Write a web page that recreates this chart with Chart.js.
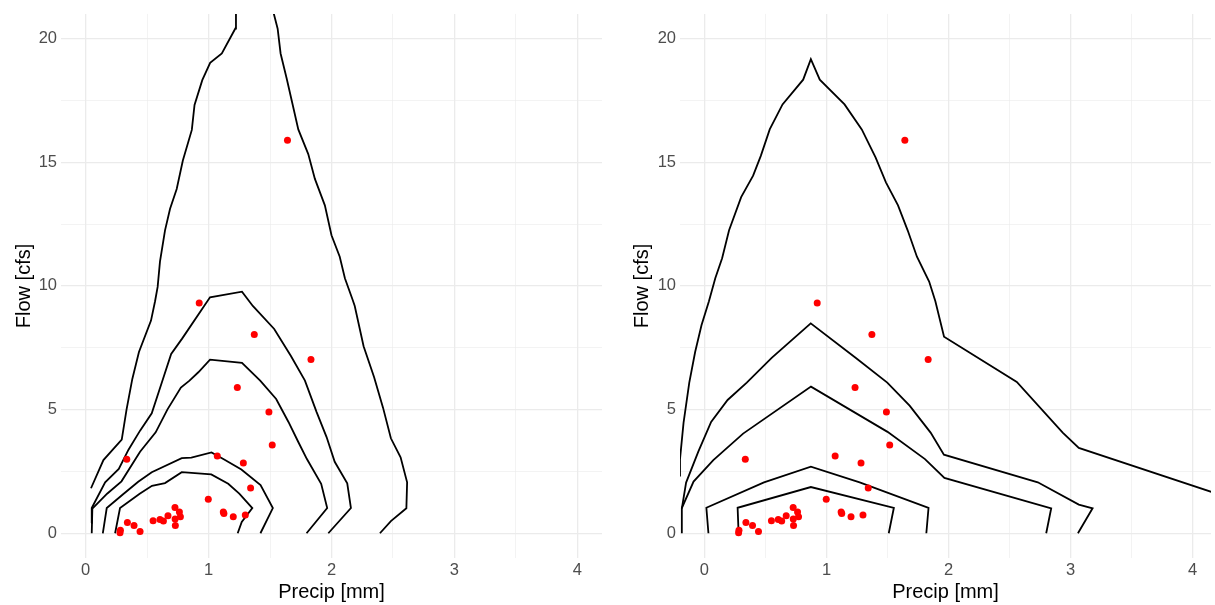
<!DOCTYPE html>
<html>
<head>
<meta charset="utf-8">
<script src="https://cdn.jsdelivr.net/npm/chart.js@4"></script>
<style>
  body { margin: 0; background: #fff; }
  #wrap { position: relative; width: 1215px; height: 605px; }
  .panel { position: absolute; top: 0; height: 605px; }
</style>
</head>
<body>
<div id="wrap">
  <div class="panel" style="left:0;width:608px"><canvas id="leftChart"></canvas></div>
  <div class="panel" style="left:608px;width:607px"><canvas id="rightChart"></canvas></div>
</div>
<script>
'use strict';

// tick positions
const xTicks = [0, 1, 2, 3, 4];
const xMinor = [0.5, 1.5, 2.5, 3.5];
const yTicks = [0, 5, 10, 15, 20];
const yMinor = [2.5, 7.5, 12.5, 17.5];

// observed storms (same points in both panels)
const precip = [1.642, 0.924, 1.372, 1.833, 1.234, 1.491, 1.518, 0.335, 1.071, 1.283,
                1.342, 0.998, 1.120, 1.125, 1.201, 1.299, 0.727, 0.763, 0.771, 0.730,
                0.728, 0.670, 0.633, 0.605, 0.549, 0.340, 0.394, 0.443, 0.283, 0.280];
const flow   = [15.89, 9.31, 8.04, 7.03, 5.89, 4.90, 3.57, 2.99, 3.12, 2.84,
                1.83, 1.38, 0.86, 0.80, 0.67, 0.74, 1.04, 0.86, 0.67, 0.31,
                0.58, 0.71, 0.50, 0.56, 0.51, 0.44, 0.31, 0.07, 0.12, 0.02];

// left panel density contours, [precip, flow]
const leftLevel1 = [[0.044,1.82],[0.145,2.96],[0.294,3.79],[0.333,5.0],[0.380,6.24],[0.434,7.33],[0.532,8.60],
  [0.565,9.38],[0.586,9.96],[0.605,10.98],[0.646,12.25],[0.687,13.12],[0.741,13.92],[0.791,15.07],[0.864,16.31],
  [0.886,17.32],[0.949,18.32],[1.013,19.02],[1.108,19.4],[1.218,20.41],[1.223,21.8],[1.49,21.8],[1.562,20.4],
  [1.586,19.4],[1.635,18.4],[1.681,17.4],[1.730,16.33],[1.811,15.33],[1.865,14.33],[1.946,13.26],[2.0,12.05],
  [2.067,11.18],[2.109,10.31],[2.171,9.45],[2.189,9.19],[2.261,7.56],[2.346,6.32],[2.419,5.08],[2.483,3.84],
  [2.562,3.07],[2.615,2.06],[2.609,1.01],[2.483,0.49],[2.394,0]];
const leftLevel2 = [[0.044,0.42],[0.05,1.02],[0.159,2.06],[0.27,2.6],[0.349,3.38],[0.443,4.15],[0.538,4.85],
  [0.62,6.1],[0.696,7.25],[0.785,7.87],[1.012,9.54],[1.272,9.77],[1.36,9.19],[1.534,8.26],[1.670,7.17],
  [1.784,6.17],[1.879,4.9],[1.96,3.89],[2.026,2.89],[2.128,2.02],[2.158,1.02],[1.974,0]];
const leftLevel3 = [[0.05,0],[0.055,1.0],[0.175,1.6],[0.292,2.1],[0.443,3.30],[0.57,4.08],[0.665,5.0],
  [0.775,5.89],[0.845,6.17],[0.917,6.51],[1.012,7.02],[1.272,6.89],[1.42,6.17],[1.55,5.43],[1.65,4.5],
  [1.73,3.69],[1.80,3.0],[1.916,2.0],[1.965,1.02],[1.797,0]];
const leftLevel4 = [[0.14,0],[0.172,1.02],[0.305,1.58],[0.428,2.08],[0.538,2.47],[0.782,3.04],[0.86,3.06],
  [1.024,3.27],[1.12,3.0],[1.267,2.58],[1.423,1.95],[1.523,1.02],[1.422,0]];
const leftLevel5 = [[0.24,0],[0.28,1.02],[0.44,1.6],[0.54,1.92],[0.646,2.03],[0.782,2.47],[1.022,2.38],
  [1.16,2.0],[1.25,1.6],[1.356,1.02],[1.27,0.46],[1.237,0]];

// right panel density contours
const rightLevel1 = [[-0.2,2.3],[-0.2,3.0],[-0.171,4.46],[-0.124,6.09],[-0.076,7.33],[-0.024,8.41],[0.037,9.38],
  [0.089,10.31],[0.145,11.12],[0.202,12.25],[0.301,13.59],[0.399,14.46],[0.462,15.26],[0.535,16.33],[0.64,17.34],
  [0.809,18.34],[0.872,19.17],[0.945,18.34],[1.148,17.34],[1.289,16.33],[1.402,15.2],[1.487,14.19],[1.586,13.26],
  [1.665,12.25],[1.741,11.18],[1.841,10.18],[1.892,9.38],[1.963,7.95],[2.559,6.12],[2.935,4.07],[3.067,3.45],
  [4.35,1.35]];
const rightLevel2 = [[-0.185,1.0],[-0.15,2.05],[-0.05,3.3],[0.055,4.5],[0.19,5.39],[0.347,6.09],[0.551,7.09],
  [0.871,8.49],[1.241,7.09],[1.498,6.09],[1.681,5.16],[1.853,4.07],[1.962,3.18],[2.731,2.06],[3.067,1.16],
  [3.18,1.01],[3.06,0]];
const rightLevel3 = [[-0.185,0],[-0.185,1.02],[-0.089,2.09],[0.073,2.96],[0.317,4.03],[0.873,5.93],[1.5,4.1],
  [1.807,3.0],[1.966,2.24],[2.841,1.01],[2.80,0]];
const rightLevel4 = [[0.033,0],[0.016,1.03],[0.488,2.06],[0.872,2.69],[1.272,2.06],[1.836,1.03],[1.818,0]];
const rightLevel5 = [[0.28,0],[0.272,1.03],[0.872,1.87],[1.552,1.03],[1.51,0]];

const tickFont = { family: '"Liberation Sans", Arial, sans-serif', size: 16.5 };
const titleFont = { family: '"Liberation Sans", Arial, sans-serif', size: 20 };
const gridColor = '#EBEBEB';

function contourSets(levels) {
  return levels.map(lv => ({
    data: lv.map(p => ({ x: p[0], y: p[1] })),
    showLine: true,
    borderColor: '#000',
    borderWidth: 1.8,
    pointRadius: 0,
    fill: false,
    tension: 0
  }));
}

function makeChart(id, levels, xMax, yAxisWidth, titlePad, padRight) {
  const pts = precip.map((p, i) => ({ x: p, y: flow[i] }));
  const datasets = [{
    data: pts,
    pointRadius: 3.5,
    pointBackgroundColor: '#FF0000',
    pointBorderWidth: 0,
    showLine: false
  }].concat(contourSets(levels));

  return new Chart(document.getElementById(id), {
    type: 'scatter',
    data: { datasets: datasets },
    options: {
      responsive: true,
      maintainAspectRatio: false,
      animation: false,
      layout: { padding: { top: 10.5, bottom: 0, left: 0, right: padRight } },
      plugins: { legend: { display: false }, tooltip: { enabled: false } },
      scales: {
        x: {
          type: 'linear',
          min: -0.2,
          max: xMax,
          afterBuildTicks: s => { s.ticks = xTicks.concat(xMinor).sort((a, b) => a - b).map(v => ({ value: v })); },
          afterFit: s => { s.height = 47; },
          border: { display: false },
          grid: {
            color: gridColor,
            drawTicks: false,
            lineWidth: c => (c.tick && xTicks.includes(c.tick.value)) ? 1.3 : 0.6
          },
          ticks: {
            autoSkip: false,
            maxRotation: 0,
            padding: 3,
            color: '#4D4D4D',
            font: tickFont,
            callback: v => xTicks.includes(v) ? String(v) : ''
          },
          title: { display: true, text: 'Precip [mm]', color: '#000', font: titleFont, padding: { top: 0, bottom: 1 } }
        },
        y: {
          type: 'linear',
          min: -1,
          max: 21,
          afterBuildTicks: s => { s.ticks = yTicks.concat(yMinor).sort((a, b) => a - b).map(v => ({ value: v })); },
          afterFit: s => { s.width = yAxisWidth; },
          border: { display: false },
          grid: {
            color: gridColor,
            drawTicks: false,
            lineWidth: c => (c.tick && yTicks.includes(c.tick.value)) ? 1.3 : 0.6
          },
          ticks: {
            autoSkip: false,
            padding: 4,
            color: '#4D4D4D',
            font: tickFont,
            callback: v => yTicks.includes(v) ? String(v) : ''
          },
          title: { display: true, text: 'Flow [cfs]', color: '#000', font: titleFont, padding: { top: titlePad, bottom: 0 } }
        }
      }
    }
  });
}

makeChart('leftChart', [leftLevel1, leftLevel2, leftLevel3, leftLevel4, leftLevel5], 4.2, 61, 12, 6);
makeChart('rightChart', [rightLevel1, rightLevel2, rightLevel3, rightLevel4, rightLevel5], 4.15, 72, 22, 0);
</script>
</body>
</html>
